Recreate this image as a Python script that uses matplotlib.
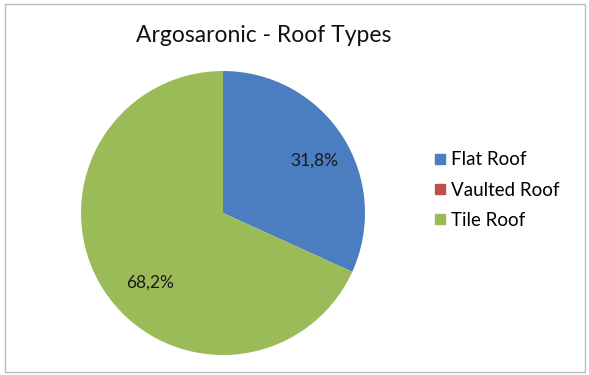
import matplotlib
matplotlib.use("Agg")
import matplotlib.pyplot as plt
import numpy as np
from matplotlib.patches import Rectangle
from matplotlib.lines import Line2D

categories = ["Flat Roof", "Vaulted Roof", "Tile Roof"]
values = [31.8, 0.0, 68.2]
colors = ["#4A7EC0", "#C0504D", "#9BBB59"]
title = "Argosaronic - Roof Types"

plt.rcParams['font.family'] = ['Lato', 'DejaVu Sans']

W, H = 589, 375
fig = plt.figure(figsize=(W/100, H/100), dpi=100)
fig.patch.set_facecolor("white")
fig.patches.append(Rectangle((5/W, 3/H), 580/W, 368/H, transform=fig.transFigure,
                             fill=False, edgecolor="#BBBBBB", linewidth=1.0))

cx, cy, r = 223, 213, 142
ax = fig.add_axes([(cx - r)/W, (H - cy - r)/H, 2*r/W, 2*r/H])

def fmt(p):
    return "" if p < 0.05 else f"{p:.1f}".replace(".", ",") + "%"

wedges, texts, autotexts = ax.pie(values, colors=colors, startangle=90, counterclock=False,
                                  autopct=fmt, pctdistance=0.74, radius=1.0,
                                  wedgeprops=dict(linewidth=0),
                                  textprops=dict(fontsize=12.5, color="#1a1a1a"))
# Excel "best fit" nudges the large slice's label toward the slice centre-left
ang = np.deg2rad(-136)
autotexts[2].set_position((0.71 * np.cos(ang), 0.71 * np.sin(ang)))
ang0 = np.deg2rad(30)
autotexts[0].set_position((0.74 * np.cos(ang0), 0.74 * np.sin(ang0)))

ax.set_xlim(-1, 1)
ax.set_ylim(-1, 1)
ax.set_aspect("equal")
ax.axis("off")

fig.text(264/W, 1 - 35/H, title, ha="center", va="center", fontsize=16.5, color="#111111")

handles = [Line2D([], [], marker="s", linestyle="", markersize=7.5, markerfacecolor=c,
                  markeredgecolor=c) for c in colors]
fig.legend(handles, categories, loc="center left", bbox_to_anchor=(435/W, 1 - 190/H),
           frameon=False, fontsize=13.5, handletextpad=0.35, labelspacing=0.7,
           handlelength=0.5, borderpad=0, borderaxespad=0)

fig.savefig("out.png", dpi=100)
